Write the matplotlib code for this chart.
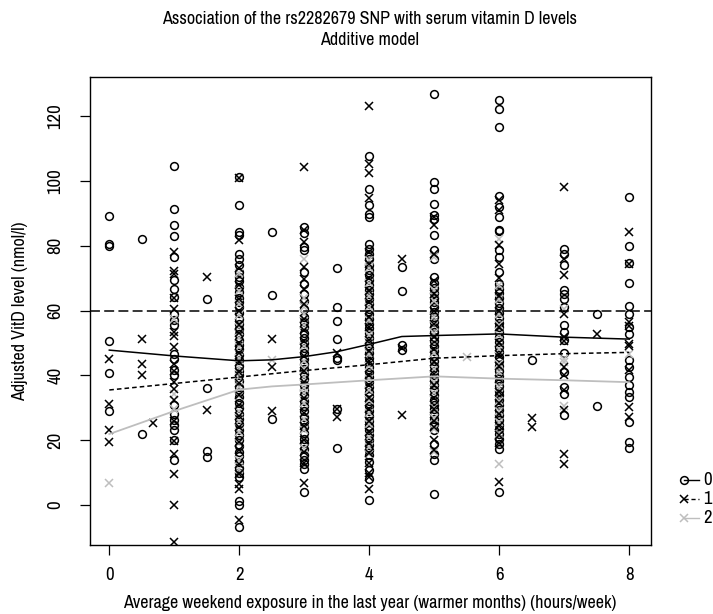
import matplotlib
matplotlib.use("Agg")
import matplotlib.pyplot as plt
from matplotlib.lines import Line2D
from matplotlib import font_manager as fm

# ---------------- data ----------------
title_lines = ["Association of the rs2282679 SNP with serum vitamin D levels", "Additive model"]
x_label = "Average weekend exposure in the last year (warmer months) (hours/week)"
y_label = "Adjusted VitD level (nmol/l)"
x_ticks = [0, 2, 4, 6, 8]
y_ticks = [0, 20, 40, 60, 80, 100, 120]
threshold = 60
legend_labels = ["0", "1", "2"]

# genotype 0 (circles): exposure -> vitamin D values
geno0 = {
    0: [89.3, 80.6, 79.8, 50.6, 40.6, 29.1],
    0.5: [82.0, 21.9],
    1: [104.7, 91.5, 86.4, 83.1, 76.5, 69.3, 66.8, 64.2, 59.1, 57.0, 55.5, 46.7, 45.2, 41.6,
        40.0, 30.8, 28.2, 26.1, 24.6, 23.0, 20.0, 13.8],
    1.5: [63.6, 36.1, 16.8, 14.7],
    2: [101.2, 92.5, 84.3, 83.2, 77.6, 76.0, 74.0, 72.0, 70.5, 69.0, 67.2, 65.8, 64.0, 62.5,
        61.0, 59.2, 57.5, 56.0, 54.2, 52.8, 51.0, 49.5, 48.0, 46.2, 44.8, 43.0, 41.5, 40.0,
        38.2, 36.5, 35.0, 33.2, 31.5, 30.0, 28.2, 26.5, 25.0, 23.0, 21.5, 20.0, 18.2, 16.5,
        15.0, 13.2, 11.5, 10.0, 8.6, 1.2, 0.0, -6.8],
    2.5: [84.3, 64.8, 26.4],
    3: [85.8, 84.0, 79.6, 78.6, 71.9, 68.3, 65.0, 63.0, 60.5, 58.0, 56.5, 55.0, 53.2, 51.5,
        50.0, 48.5, 47.0, 45.2, 43.5, 42.0, 40.5, 38.8, 37.0, 35.5, 34.0, 32.2, 30.5, 29.0,
        27.2, 25.5, 24.0, 22.2, 20.5, 19.0, 17.2, 15.5, 14.0, 12.5, 11.2, 4.0],
    3.5: [73.2, 61.2, 56.8, 51.1, 45.3, 44.7, 29.6, 17.5],
    4: [107.7, 97.4, 92.5, 89.9, 88.9, 80.7, 79.0, 77.5, 76.0, 74.2, 72.5, 71.0, 69.5, 68.0,
        66.5, 65.0, 63.5, 62.0, 60.5, 59.0, 57.5, 56.0, 54.5, 53.0, 51.5, 50.0, 48.5, 47.0,
        45.5, 44.0, 42.5, 41.0, 39.5, 38.0, 36.5, 35.0, 33.5, 32.0, 30.5, 29.0, 27.5, 26.0,
        24.5, 23.0, 21.5, 20.0, 18.5, 17.0, 15.3, 13.3, 10.7, 8.1, 1.4],
    4.5: [73.5, 66.0, 49.4, 47.8],
    5: [126.7, 99.7, 97.6, 93.0, 89.4, 88.4, 83.2, 78.6, 76.0, 70.4, 68.5, 67.0, 65.5, 64.0,
        62.5, 61.0, 59.5, 58.0, 56.5, 55.0, 53.5, 52.0, 50.5, 49.0, 47.5, 46.0, 44.5, 43.0,
        41.5, 40.0, 38.5, 37.0, 35.5, 34.0, 32.5, 31.0, 29.5, 28.0, 26.5, 25.0, 23.1, 18.9,
        15.8, 13.8, 3.5],
    6: [125.1, 122.1, 116.7, 95.4, 92.0, 88.9, 85.0, 84.5, 78.6, 76.5, 71.9, 68.3, 66.8, 65.3,
        63.8, 62.3, 60.8, 59.3, 57.8, 56.3, 54.8, 53.3, 51.8, 50.3, 48.8, 47.3, 45.8, 44.3,
        42.8, 41.3, 39.8, 38.3, 36.8, 35.3, 33.8, 32.3, 30.8, 29.3, 27.8, 26.3, 24.8, 23.3,
        21.8, 20.3, 18.8, 17.4, 4.0],
    6.5: [44.9],
    7: [79.1, 77.6, 74.0, 66.3, 65.0, 63.7, 61.1, 55.5, 53.4, 50.8, 46.9, 41.0, 36.4, 34.4, 27.7],
    7.5: [59.1, 30.6],
    8: [95.1, 79.8, 74.7, 68.6, 61.3, 59.1, 55.0, 52.9, 44.6, 42.6, 39.5, 37.0, 34.9, 33.3,
        25.6, 19.4, 17.7],
}

# genotype 1 (black crosses)
geno1 = {
    0: [45.1, 31.1, 23.1, 19.5],
    0.5: [51.2, 43.5, 40.1],
    0.67: [25.2],
    1: [78.1, 72.1, 71.4, 64.0, 60.6, 53.4, 52.1, 48.8, 43.6, 41.4, 38.0, 35.9, 32.3, 26.0,
        19.8, 15.8, 9.7, 0.1, -11.4],
    1.5: [70.3, 29.4],
    2: [100.8, 81.7, 73.0, 68.0, 63.5, 60.0, 55.5, 53.0, 50.0, 47.0, 44.0, 41.0, 37.5, 34.0,
        31.0, 27.5, 24.0, 19.5, 17.0, 12.5, 9.5, 6.6, 4.8, -4.7],
    2.5: [51.2, 42.7, 29.0],
    3: [104.3, 85.0, 81.2, 73.5, 69.9, 66.8, 62.0, 57.5, 54.0, 50.5, 46.0, 41.5, 38.0, 33.0,
        28.5, 24.5, 20.0, 16.5, 13.0, 6.8],
    3.5: [47.0, 29.6, 27.3],
    4: [123.1, 105.1, 102.5, 94.9, 78.0, 74.5, 70.0, 66.0, 62.5, 58.0, 55.0, 51.0, 47.5, 44.5,
        40.0, 37.0, 33.0, 29.5, 26.0, 22.5, 19.0, 16.0, 13.0, 10.0, 8.5, 4.8],
    4.5: [75.8, 48.5, 27.8],
    5: [89.0, 86.3, 77.5, 69.0, 65.0, 60.0, 56.0, 52.0, 48.0, 44.0, 40.5, 37.0, 33.0, 29.5,
        26.0, 24.0, 20.0, 17.0],
    6: [94.0, 91.0, 80.1, 74.5, 70.0, 64.5, 60.0, 55.0, 50.0, 46.5, 43.0, 39.0, 35.0, 31.5,
        28.0, 24.5, 21.5, 19.0, 7.1],
    6.5: [26.7, 24.1],
    7: [98.1, 76.0, 70.9, 58.8, 51.9, 50.5, 42.6, 40.0, 35.5, 29.2, 15.6, 12.5],
    7.5: [52.7],
    8: [84.3, 74.5, 56.5, 55.2, 49.8, 49.0, 41.6, 30.2, 27.2],
}

# genotype 2 (grey crosses)
geno2 = {
    0: [6.7],
    1: [57.5, 34.4, 29.5],
    2: [71.5, 66.0, 62.0, 58.5, 55.0, 51.5, 48.8, 45.5, 42.5, 39.5, 36.5, 33.5, 29.0, 26.0,
        22.5, 19.0, 14.0, 11.0],
    2.5: [44.7],
    3: [76.0, 64.0, 61.0, 59.0, 55.5, 49.0, 44.5, 42.0, 39.5, 36.0, 34.5, 31.5, 26.5, 23.0, 17.5],
    4: [75.5, 73.0, 68.5, 64.5, 61.0, 57.0, 52.5, 49.5, 46.5, 43.0, 39.0, 35.5, 32.5, 28.5,
        25.0, 21.0, 18.0, 15.8],
    5: [76.5, 66.5, 63.0, 58.0, 55.5, 53.0, 47.0, 42.0, 38.0, 34.5, 30.0, 27.0, 23.5, 16.5],
    5.5: [45.7],
    6: [82.2, 68.0, 63.5, 59.0, 55.5, 52.5, 48.0, 43.5, 41.0, 36.5, 32.0, 29.0, 25.5, 22.0, 12.6],
    7: [60.5, 45.2, 44.1, 30.5],
    8: [46.7],
}

# fitted (model) lines
fit0_x = [0, 1, 2, 2.5, 3, 3.5, 4, 4.5, 5, 6, 7, 8]
fit0_y = [47.8, 46.0, 44.5, 44.8, 45.8, 47.3, 49.6, 52.0, 52.3, 52.8, 51.8, 51.2]
fit1_x = [0, 1, 2, 3, 4, 5, 6, 7, 8]
fit1_y = [35.5, 37.5, 39.5, 41.5, 43.3, 45.3, 46.1, 46.7, 47.1]
fit2_x = [0, 1, 2, 2.5, 3, 4, 5, 6, 7, 8]
fit2_y = [21.9, 29.0, 35.6, 36.6, 37.2, 38.5, 39.7, 39.0, 38.5, 37.9]

# ---------------- font: pick a narrow/condensed sans if available ----------------
def _stretch_val(s):
    table = {'ultra-condensed': 50, 'extra-condensed': 62, 'condensed': 75,
             'semi-condensed': 87, 'normal': 100}
    if isinstance(s, (int, float)):
        return s
    return table.get(str(s), 100)


def pick_font():
    best = None
    best_score = None
    for f in fm.fontManager.ttflist:
        if f.style != 'normal':
            continue
        w = f.weight if isinstance(f.weight, int) else {'normal': 400, 'regular': 400}.get(str(f.weight), 700)
        if w != 400:
            continue
        nm = f.name
        sv = _stretch_val(f.stretch)
        narrow_name = ('Narrow' in nm) or ('Condensed' in nm and 'Extra' not in nm and 'Semi' not in nm)
        if not (narrow_name or sv <= 87):
            continue
        if 'Mono' in nm or 'Serif' in nm:
            continue
        if nm == 'Liberation Sans Narrow':
            score = 100
        elif narrow_name:
            score = 60
        elif sv == 75:
            score = 50
        elif sv == 87:
            score = 30
        else:
            score = 10
        if best_score is None or score > best_score:
            best, best_score = f, score
    if best is not None:
        return fm.FontProperties(fname=best.fname)
    return fm.FontProperties(family='DejaVu Sans', stretch='condensed')


FS = 13
fp_base = pick_font()


def fp(size=FS):
    p = fp_base.copy()
    p.set_size(size)
    return p


# ---------------- styling ----------------
GREY = '#bebebe'
W, H = 713, 614
MS = 5.6
MEW = 1.1

fig = plt.figure(figsize=(W / 100, H / 100), dpi=100)
ax = fig.add_axes([90 / W, 1 - 545 / H, (651 - 90) / W, (545 - 77) / H])


def flatten(d):
    xs, ys = [], []
    for k, vals in d.items():
        xs.extend([k] * len(vals))
        ys.extend(vals)
    return xs, ys


x0, y0 = flatten(geno0)
x1, y1 = flatten(geno1)
x2, y2 = flatten(geno2)

ax.plot(x0, y0, linestyle='none', marker='o', markersize=MS, markerfacecolor='none',
        markeredgecolor='black', markeredgewidth=MEW, zorder=2.0)
ax.plot(x2, y2, linestyle='none', marker='x', markersize=MS, color=GREY,
        markeredgewidth=MEW, zorder=2.1)
ax.plot(x1, y1, linestyle='none', marker='x', markersize=MS, color='black',
        markeredgewidth=MEW, zorder=2.2)

ax.plot(fit0_x, fit0_y, color='black', lw=1.1, zorder=3)
ax.plot(fit1_x, fit1_y, color='black', lw=1.1, dashes=(3, 2), zorder=3)
ax.plot(fit2_x, fit2_y, color=GREY, lw=1.3, zorder=3)

ax.axhline(threshold, color='black', lw=1.1, dashes=(6.5, 2.8), zorder=3)

ax.set_xlim(-0.297, 8.334)
ax.set_ylim(-12.35, 132.1)
ax.set_xticks(x_ticks)
ax.set_yticks(y_ticks)
ax.set_xticklabels([str(t) for t in x_ticks])
ax.set_yticklabels([str(t) for t in y_ticks], rotation=90, va='center')
for lab in ax.get_xticklabels() + ax.get_yticklabels():
    lab.set_fontproperties(fp(13.5))
ax.tick_params(direction='out', length=7, width=0.9)
ax.tick_params(axis='x', pad=9)
ax.tick_params(axis='y', pad=12)
for s in ax.spines.values():
    s.set_linewidth(1.0)

fig.text(370 / W, 1 - 603 / H, x_label, ha='center', va='center', fontproperties=fp())
fig.text(20 / W, 1 - 311 / H, y_label, ha='center', va='center', rotation=90, fontproperties=fp())
fig.text(370 / W, 1 - 19 / H, title_lines[0], ha='center', va='center', fontproperties=fp())
fig.text(370 / W, 1 - 40 / H, title_lines[1], ha='center', va='center', fontproperties=fp())

# legend outside plot
rows = [480, 499, 518]
styles = [
    dict(color='black', marker='o', dashes=None),
    dict(color='black', marker='x', dashes=(3, 2)),
    dict(color=GREY, marker='x', dashes=None),
]
for ypx, lab, st in zip(rows, legend_labels, styles):
    yf = 1 - ypx / H
    ln = Line2D([684 / W, 699 / W], [yf, yf], transform=fig.transFigure,
                color=st['color'], lw=1.0)
    if st['dashes']:
        ln.set_dashes(st['dashes'])
    fig.add_artist(ln)
    mk = Line2D([684 / W], [yf], transform=fig.transFigure, linestyle='none',
                marker=st['marker'], markersize=MS,
                markerfacecolor='none' if st['marker'] == 'o' else st['color'],
                markeredgecolor=st['color'], markeredgewidth=MEW)
    fig.add_artist(mk)
    fig.text(703 / W, yf, lab, ha='left', va='center', fontproperties=fp(13.5))

fig.savefig('out.png', dpi=100)
